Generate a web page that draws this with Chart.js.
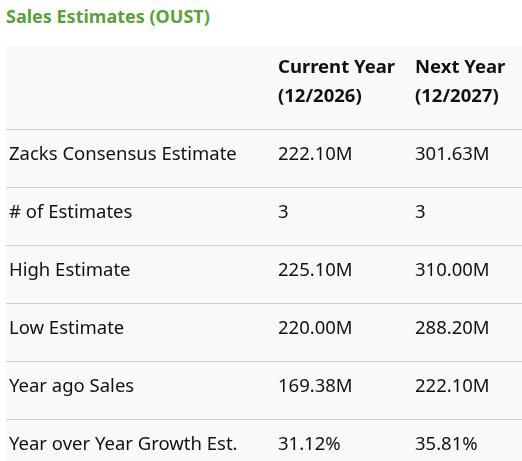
<!DOCTYPE html>
<html>
<head>
  <title>Sales Estimates (OUST)</title>
  <script src="https://cdn.jsdelivr.net/npm/chart.js"></script>
  <style>
    body { margin: 0; background: #fff; }
    .title {
      position: absolute; left: 6px; top: 4px;
      font-family: "Noto Sans", sans-serif; font-weight: bold; font-size: 18px;
      color: #5aa03c;
    }
    #salesTable { position: absolute; left: 0; top: 0; }
  </style>
</head>
<body>
  <div class="title">Sales Estimates (OUST)</div>
  <canvas id="salesTable" width="522" height="461"></canvas>
  <script>
    const headerLines = [['Current Year', '(12/2026)'], ['Next Year', '(12/2027)']];
    const rowLabels = ['Zacks Consensus Estimate', '# of Estimates', 'High Estimate', 'Low Estimate', 'Year ago Sales', 'Year over Year Growth Est.'];
    const currentYear = ['222.10M', '3', '225.10M', '220.00M', '169.38M', '31.12%'];
    const nextYear = ['301.63M', '3', '310.00M', '288.20M', '222.10M', '35.81%'];

    const headerUnits = 1.43;   // header row is taller than body rows
    const columnX = [3, 272, 409];
    const font = '"Noto Sans", sans-serif';

    const tablePlugin = {
      id: 'table',
      beforeDatasetsDraw(chart) {
        const ctx = chart.ctx, area = chart.chartArea;
        const x = chart.scales.x, y = chart.scales.y;
        ctx.save();
        ctx.fillStyle = '#f9f9f9';
        ctx.fillRect(area.left, area.top, area.right - area.left, area.bottom - area.top);

        ctx.strokeStyle = '#cfcfcf';
        ctx.lineWidth = 1;
        for (let i = 0; i < rowLabels.length; i++) {
          const py = Math.round(y.getPixelForValue(headerUnits + i)) + 0.5;
          ctx.beginPath(); ctx.moveTo(area.left, py); ctx.lineTo(area.right, py); ctx.stroke();
        }

        ctx.fillStyle = '#111';
        ctx.textBaseline = 'middle';
        ctx.font = 'bold 18.5px ' + font;
        headerLines.forEach((lines, c) => {
          lines.forEach((t, k) => {
            ctx.fillText(t, x.getPixelForValue(columnX[c + 1]), y.getPixelForValue(0.38 + k * 0.5));
          });
        });

        ctx.font = '18.5px ' + font;
        rowLabels.forEach((label, i) => {
          const py = y.getPixelForValue(headerUnits + i + 0.45);
          ctx.fillText(label, x.getPixelForValue(columnX[0]), py);
          ctx.fillText(currentYear[i], x.getPixelForValue(columnX[1]), py);
          ctx.fillText(nextYear[i], x.getPixelForValue(columnX[2]), py);
        });
        ctx.restore();
      }
    };

    new Chart(document.getElementById('salesTable'), {
      type: 'scatter',
      data: { datasets: [] },
      options: {
        responsive: false,
        animation: false,
        layout: { padding: { left: 6, top: 46, right: 0, bottom: 0 } },
        plugins: { legend: { display: false }, tooltip: { enabled: false } },
        scales: {
          x: { type: 'linear', min: 0, max: 516, display: false },
          y: { type: 'linear', min: 0, max: 7.155, reverse: true, display: false }
        }
      },
      plugins: [tablePlugin]
    });
  </script>
</body>
</html>
